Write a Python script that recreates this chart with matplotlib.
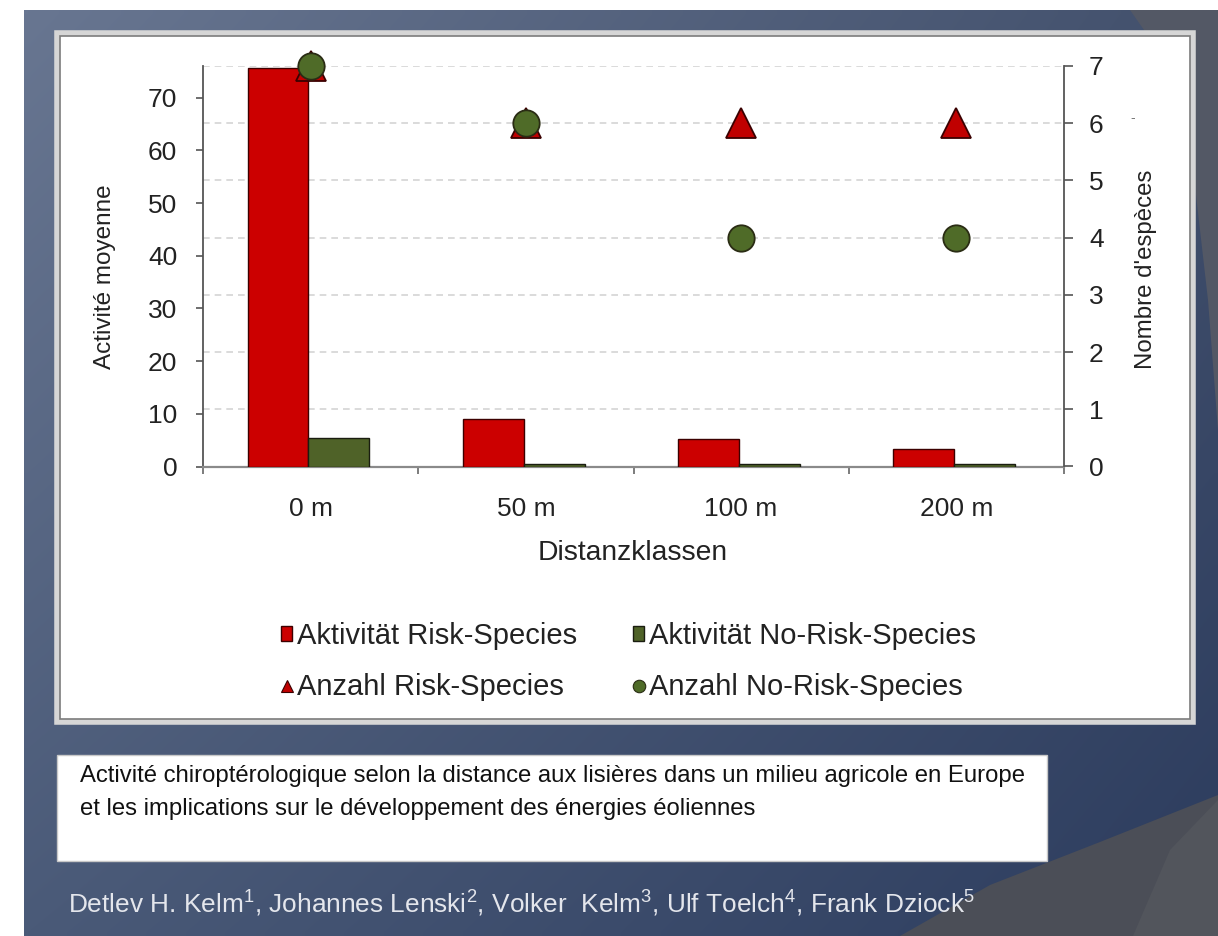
import numpy as np
import matplotlib
matplotlib.use("Agg")
import matplotlib.pyplot as plt
from matplotlib.patches import Rectangle, Polygon
from matplotlib.ticker import FixedLocator

plt.rcParams["font.family"] = ["Liberation Sans", "DejaVu Sans"]
plt.rcParams["mathtext.fontset"] = "custom"
plt.rcParams["mathtext.rm"] = "Liberation Sans"
plt.rcParams["mathtext.it"] = "Liberation Sans:italic"
plt.rcParams["mathtext.bf"] = "Liberation Sans:bold"

# ---- data -------------------------------------------------------------
categories = ["0 m", "50 m", "100 m", "200 m"]
activity_risk = [75.6, 9.0, 5.2, 3.3]        # Aktivität Risk-Species
activity_norisk = [5.4, 0.4, 0.4, 0.4]       # Aktivität No-Risk-Species
count_risk = [7, 6, 6, 6]                    # Anzahl Risk-Species
count_norisk = [7, 6, 4, 4]                  # Anzahl No-Risk-Species
left_ticks = [0, 10, 20, 30, 40, 50, 60, 70]
right_ticks = [0, 1, 2, 3, 4, 5, 6, 7]
LEFT_MAX = 76
RIGHT_MAX = 7

caption_lines = [
    "Activité chiroptérologique selon la distance aux lisières dans un milieu agricole en Europe",
    "et les implications sur le développement des énergies éoliennes",
]
authors = (r"Detlev H. Kelm$^{\mathrm{1}}$, Johannes Lenski$^{\mathrm{2}}$, "
           r"Volker  Kelm$^{\mathrm{3}}$, Ulf Toelch$^{\mathrm{4}}$, Frank Dziock$^{\mathrm{5}}$")

RED = "#cc0000"
GREEN = "#4f6228"
TXT = "#222222"

W, H = 1218, 936
fig = plt.figure(figsize=(W / 100, H / 100), dpi=100, facecolor="white")

# ---- slide background (pixel coordinates, y downward) -----------------
bg = fig.add_axes([0, 0, 1, 1], zorder=-5)
bg.set_xlim(0, W)
bg.set_ylim(H, 0)
bg.axis("off")

ny, nx = 120, 160
u = np.linspace(0, 1, nx)[None, :, None]
v = np.linspace(0, 1, ny)[:, None, None]
tl = np.array([104, 118, 145]) / 255
tr = np.array([66, 80, 108]) / 255
bl = np.array([74, 90, 120]) / 255
br = np.array([44, 60, 94]) / 255
grad = (1 - u) * (1 - v) * tl + u * (1 - v) * tr + (1 - u) * v * bl + u * v * br
bg.imshow(grad, extent=(24, W, H, 10), interpolation="bilinear", aspect="auto", zorder=0)

bg.add_patch(Polygon([(900, H), (990, 885), (1100, 842), (1218, 795), (1218, H)],
                     closed=True, facecolor="#4b4e57", edgecolor="none", zorder=1))
bg.add_patch(Polygon([(1133, H), (1170, 850), (1218, 800), (1218, H)],
                     closed=True, facecolor="#52555c", edgecolor="none", zorder=1))
bg.add_patch(Polygon([(1130, 10), (1165, 60), (1192, 160), (1208, 300), (1218, 430), (1218, 10)],
                     closed=True, facecolor="#535865", edgecolor="none", zorder=1))

# chart panel with double border
bg.add_patch(Rectangle((57, 33), 1136, 689, facecolor="white", edgecolor="#d6d6d6",
                       lw=4, zorder=2))
bg.add_patch(Rectangle((60, 36), 1130, 683, facecolor="none", edgecolor="#7c7c7c",
                       lw=1.2, zorder=3))

# caption box
bg.add_patch(Rectangle((57, 755), 990, 106, facecolor="white", edgecolor="#c8c8c8",
                       lw=1, zorder=2))
bg.text(80, 776, caption_lines[0], fontsize=17.2, color="#111111", va="center", ha="left", zorder=4)
bg.text(80, 809, caption_lines[1], fontsize=17.2, color="#111111", va="center", ha="left", zorder=4)

# authors line
bg.text(68, 904, authors, fontsize=18.9, color="#e4e6ec", va="center", ha="left", zorder=4)

# small stray mark beside the secondary axis
bg.text(1133, 118, "-", fontsize=10, color="#777777", va="center", ha="center", zorder=4)

# ---- chart -------------------------------------------------------------
ax = fig.add_axes([203 / W, 1 - 466.5 / H, 861 / W, 400.5 / H])
ax.patch.set_visible(False)
ax2 = ax.twinx()
ax2.patch.set_visible(False)

x = np.arange(len(categories))
bw = 0.283
b1 = ax.bar(x - bw / 2 - 0.01, activity_risk, bw, color=RED, edgecolor="#3c0000", lw=1.0,
            zorder=3, label="Aktivität Risk-Species")
b2 = ax.bar(x + bw / 2 - 0.01, activity_norisk, bw, color=GREEN, edgecolor="#1a1d10", lw=1.0,
            zorder=3, label="Aktivität No-Risk-Species")

ax.set_xlim(-0.5, len(categories) - 0.5)
ax.set_ylim(0, LEFT_MAX)
ax.set_yticks(left_ticks)
ax.set_xticks(x, categories)

# dashed gridlines at the secondary-axis steps
ax.yaxis.set_minor_locator(FixedLocator(np.array(right_ticks[1:]) * LEFT_MAX / RIGHT_MAX))
ax.grid(axis="y", which="minor", color="#d4d4d4", ls=(0, (4, 3)), lw=1.2)
ax.set_axisbelow(True)
ax.xaxis.set_minor_locator(FixedLocator(np.arange(len(categories) + 1) - 0.5))

ax.tick_params(axis="y", which="major", direction="out", length=5, width=1.2, color="#555555",
               pad=13.5, labelsize=19, labelcolor=TXT)
ax.tick_params(axis="y", which="minor", length=0)
ax.tick_params(axis="x", which="major", length=0, pad=22, labelsize=19, labelcolor=TXT)
ax.tick_params(axis="x", which="minor", direction="out", length=5, width=1.2, color="#666666")

for s in ("top", "right"):
    ax.spines[s].set_visible(False)
ax.spines["left"].set_color("#555555")
ax.spines["left"].set_linewidth(1.3)
ax.spines["bottom"].set_color("#8a8a8a")
ax.spines["bottom"].set_linewidth(1.6)

ax2.set_ylim(0, RIGHT_MAX)
ax2.set_yticks(right_ticks)
ln1, = ax2.plot(x, count_risk, ls="none", marker="^", ms=22, mfc="#c00000", mec="#3a0000",
                mew=1.3, clip_on=False, zorder=5, label="Anzahl Risk-Species")
ln2, = ax2.plot(x, count_norisk, ls="none", marker="o", ms=19, mfc="#4f6b28", mec="#2a2c14",
                mew=1.3, clip_on=False, zorder=6, label="Anzahl No-Risk-Species")
for s in ("top", "left", "bottom"):
    ax2.spines[s].set_visible(False)
ax2.spines["right"].set_color("#555555")
ax2.spines["right"].set_linewidth(1.3)
ax2.tick_params(axis="y", direction="out", length=6.5, width=1.2, color="#555555",
                pad=11.5, labelsize=19, labelcolor=TXT)

ax.set_ylabel("Activité moyenne", fontsize=17.5, color=TXT)
ax.yaxis.set_label_coords(-0.101, 0.473)
ax.set_xlabel("Distanzklassen", fontsize=20.3, color=TXT)
ax.xaxis.set_label_coords(0.4994, -0.184)
ax2.set_ylabel("Nombre d'espèces", fontsize=17.3, color=TXT)
ax2.yaxis.set_label_coords(1.0823, 0.493)

leg = fig.legend(handles=[b1, ln1, b2, ln2], ncol=2, loc="upper left",
                 bbox_to_anchor=(281 / W, 1 - 622 / H), frameon=False, fontsize=21,
                 handlelength=0.38, handleheight=0.45, handletextpad=0.17,
                 columnspacing=1.92, labelspacing=0.79, borderpad=0, borderaxespad=0)
for h in leg.legend_handles:
    if hasattr(h, "set_markersize"):
        h.set_markersize(9)
        h.set_markeredgewidth(0.8)
for t in leg.get_texts():
    t.set_color(TXT)

fig.savefig("out.png", dpi=100, facecolor="white")
